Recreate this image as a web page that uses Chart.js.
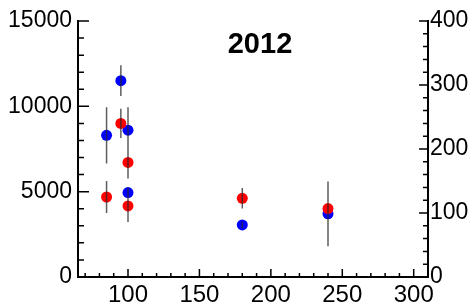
<!DOCTYPE html>
<html>
<head>
<meta charset="utf-8">
<script src="https://cdn.jsdelivr.net/npm/chart.js@4"></script>
<style>
  html, body { margin: 0; padding: 0; background: #fff; }
  canvas { display: block; }
</style>
</head>
<body>
<canvas id="myChart" width="475" height="305"></canvas>
<script>
// values
const xBlue = [85, 95, 100, 100, 180, 240];
const yBlue = [8300, 11500, 8600, 4950, 3050, 3700];
const errBlue = [1650, 900, 1350, 300, 200, 1900];

const xRed = [85, 95, 100, 100, 180, 240];
const yRed = [125, 240, 179, 111, 123, 107];
const errRed = [25, 23, 25, 25, 16, 20];

const xTicks = [100, 150, 200, 250, 300];
const yLeftTicks = [0, 5000, 10000, 15000];
const yRightTicks = [0, 100, 200, 300, 400];

const title = "2012";
const FONT = "'Liberation Sans', Arial, Helvetica, sans-serif";

const toPoints = (xs, ys) => xs.map((x, i) => ({ x: x, y: ys[i] }));

// ROOT style ticks, pointing into the frame
const innerTicks = {
    id: 'innerTicks',
    afterDraw(chart) {
        const { ctx, chartArea: a, scales } = chart;
        ctx.save();
        ctx.strokeStyle = '#000';
        ctx.lineWidth = 1.5;
        ctx.beginPath();
        for (let v = 70; v <= 310; v += 10) {
            const px = scales.x.getPixelForValue(v);
            const len = v % 50 === 0 ? 8 : 4;
            ctx.moveTo(px, a.bottom);
            ctx.lineTo(px, a.bottom - len);
        }
        for (let v = 0; v <= 15000; v += 1000) {
            const py = scales.y.getPixelForValue(v);
            const len = v % 5000 === 0 ? 11 : 6;
            ctx.moveTo(a.left, py);
            ctx.lineTo(a.left + len, py);
        }
        for (let v = 0; v <= 400; v += 20) {
            const py = scales.y1.getPixelForValue(v);
            const len = v % 100 === 0 ? 9 : 5;
            ctx.moveTo(a.right, py);
            ctx.lineTo(a.right - len, py);
        }
        ctx.stroke();
        ctx.restore();
    }
};

const errorBars = {
    id: 'errorBars',
    afterDatasetsDraw(chart) {
        const { ctx, scales } = chart;
        ctx.save();
        ctx.strokeStyle = 'rgba(40,40,40,0.75)';
        ctx.lineWidth = 1.5;
        ctx.beginPath();
        xBlue.forEach((x, i) => {
            const px = scales.x.getPixelForValue(x);
            ctx.moveTo(px, scales.y.getPixelForValue(yBlue[i] - errBlue[i]));
            ctx.lineTo(px, scales.y.getPixelForValue(yBlue[i] + errBlue[i]));
        });
        xRed.forEach((x, i) => {
            const px = scales.x.getPixelForValue(x);
            ctx.moveTo(px, scales.y1.getPixelForValue(yRed[i] - errRed[i]));
            ctx.lineTo(px, scales.y1.getPixelForValue(yRed[i] + errRed[i]));
        });
        ctx.stroke();
        ctx.restore();
    }
};

const titleText = {
    id: 'titleText',
    afterDraw(chart) {
        const { ctx } = chart;
        ctx.save();
        ctx.fillStyle = '#000';
        ctx.font = 'bold 29px ' + FONT;
        ctx.textAlign = 'center';
        ctx.textBaseline = 'middle';
        ctx.fillText(title, 260, 45);
        ctx.restore();
    }
};

const setTicks = list => scale => { scale.ticks = list.map(v => ({ value: v })); };
const plain = v => String(v);

const axisBase = {
    grid: { display: false, drawTicks: false },
    border: { display: true, color: '#000', width: 2 },
};

const ctx = document.getElementById('myChart').getContext('2d');
const myChart = new Chart(ctx, {
    type: 'scatter',
    data: {
        datasets: [{
            label: 'red',
            data: toPoints(xRed, yRed),
            yAxisID: 'y1',
            backgroundColor: '#ff0000',
            borderWidth: 0,
            pointRadius: 5.5,
            order: 0
        }, {
            label: 'blue',
            data: toPoints(xBlue, yBlue),
            yAxisID: 'y',
            backgroundColor: '#0000ff',
            borderWidth: 0,
            pointRadius: 5.5,
            order: 1
        }]
    },
    options: {
        responsive: false,
        animation: false,
        layout: { padding: { top: 21, left: 0, right: 0, bottom: 0 } },
        plugins: { legend: { display: false }, tooltip: { enabled: false } },
        scales: {
            x: {
                ...axisBase,
                type: 'linear',
                position: 'bottom',
                min: 65,
                max: 310,
                afterBuildTicks: setTicks(xTicks),
                afterFit: s => { s.height = 28; },
                ticks: { font: { family: FONT, size: 24 }, color: '#000', padding: 4,
                         maxRotation: 0, autoSkip: false, callback: plain }
            },
            y: {
                ...axisBase,
                position: 'left',
                min: 0,
                max: 15000,
                afterBuildTicks: setTicks(yLeftTicks),
                afterFit: s => { s.width = 78; },
                ticks: { font: { family: FONT, size: 23 }, color: '#000', padding: 6,
                         autoSkip: false, callback: plain }
            },
            y1: {
                ...axisBase,
                position: 'right',
                min: 0,
                max: 400,
                afterBuildTicks: setTicks(yRightTicks),
                afterFit: s => { s.width = 47; },
                ticks: { font: { family: FONT, size: 23 }, color: '#000', padding: 2,
                         autoSkip: false, callback: plain }
            }
        }
    },
    plugins: [innerTicks, errorBars, titleText]
});
</script>
</body>
</html>
